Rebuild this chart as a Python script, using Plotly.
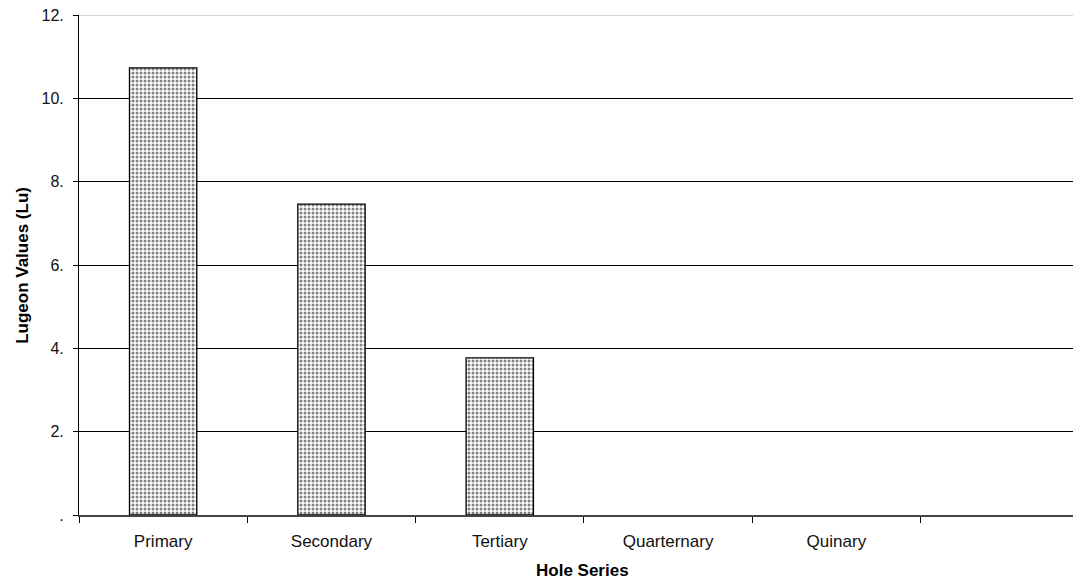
import plotly.graph_objects as go

# Hole series categories (the last slot is an unlabeled spare column)
categories = ["Primary", "Secondary", "Tertiary", "Quarternary", "Quinary", " "]
lugeon_values = [10.73, 7.46, 3.77, None, None, None]

y_tick_vals = [0, 2, 4, 6, 8, 10, 12]
y_tick_text = [".", "2.", "4.", "6.", "8.", "10.", "12."]

FONT = "Liberation Sans, Arial, sans-serif"

fig = go.Figure()
fig.add_trace(go.Bar(
    x=categories,
    y=lugeon_values,
    width=0.40,
    marker=dict(
        color="white",
        line=dict(color="black", width=1.3),
        pattern=dict(shape=".", fgcolor="black", bgcolor="white",
                     size=4, solidity=0.45),
    ),
    showlegend=False,
))

fig.update_layout(
    width=1073, height=585,
    margin=dict(l=79, r=0, t=15, b=70),
    paper_bgcolor="white", plot_bgcolor="white",
    font=dict(family=FONT, size=16, color="#111111"),
    bargap=0.6,
)

fig.update_xaxes(
    type="category",
    categoryorder="array", categoryarray=categories,
    range=[-0.5, 5.406],
    tickson="boundaries",
    ticks="outside", ticklen=6, tickcolor="black", tickwidth=1,
    showline=True, linecolor="#444444", linewidth=2,
    showgrid=False,
    ticklabelstandoff=10,
    tickfont=dict(size=17, family=FONT),
)

fig.update_yaxes(
    range=[0, 12],
    tickvals=y_tick_vals, ticktext=y_tick_text,
    ticks="outside", ticklen=5, tickcolor="black", tickwidth=1,
    showline=True, linecolor="black", linewidth=1,
    showgrid=True, gridcolor="black", gridwidth=1,
    zeroline=False,
    ticklabelstandoff=6,
    tickfont=dict(size=16, family=FONT),
)

# light top border of the plot area at 12
fig.add_shape(type="line", xref="paper", yref="y", x0=0, x1=1, y0=12, y1=12,
              line=dict(color="#aaaaaa", width=1))

# axis titles
fig.add_annotation(text="<b>Hole Series</b>", xref="paper", yref="paper",
                   x=0.507, y=-0.11, yanchor="middle", showarrow=False,
                   font=dict(size=17, family=FONT, color="black"))
fig.add_annotation(text="<b>Lugeon Values (Lu)</b>", xref="paper", yref="paper",
                   x=-0.0575, y=0.5, xanchor="center", yanchor="middle",
                   textangle=-90, showarrow=False,
                   font=dict(size=17, family=FONT, color="black"))

fig.write_html("out.html")
